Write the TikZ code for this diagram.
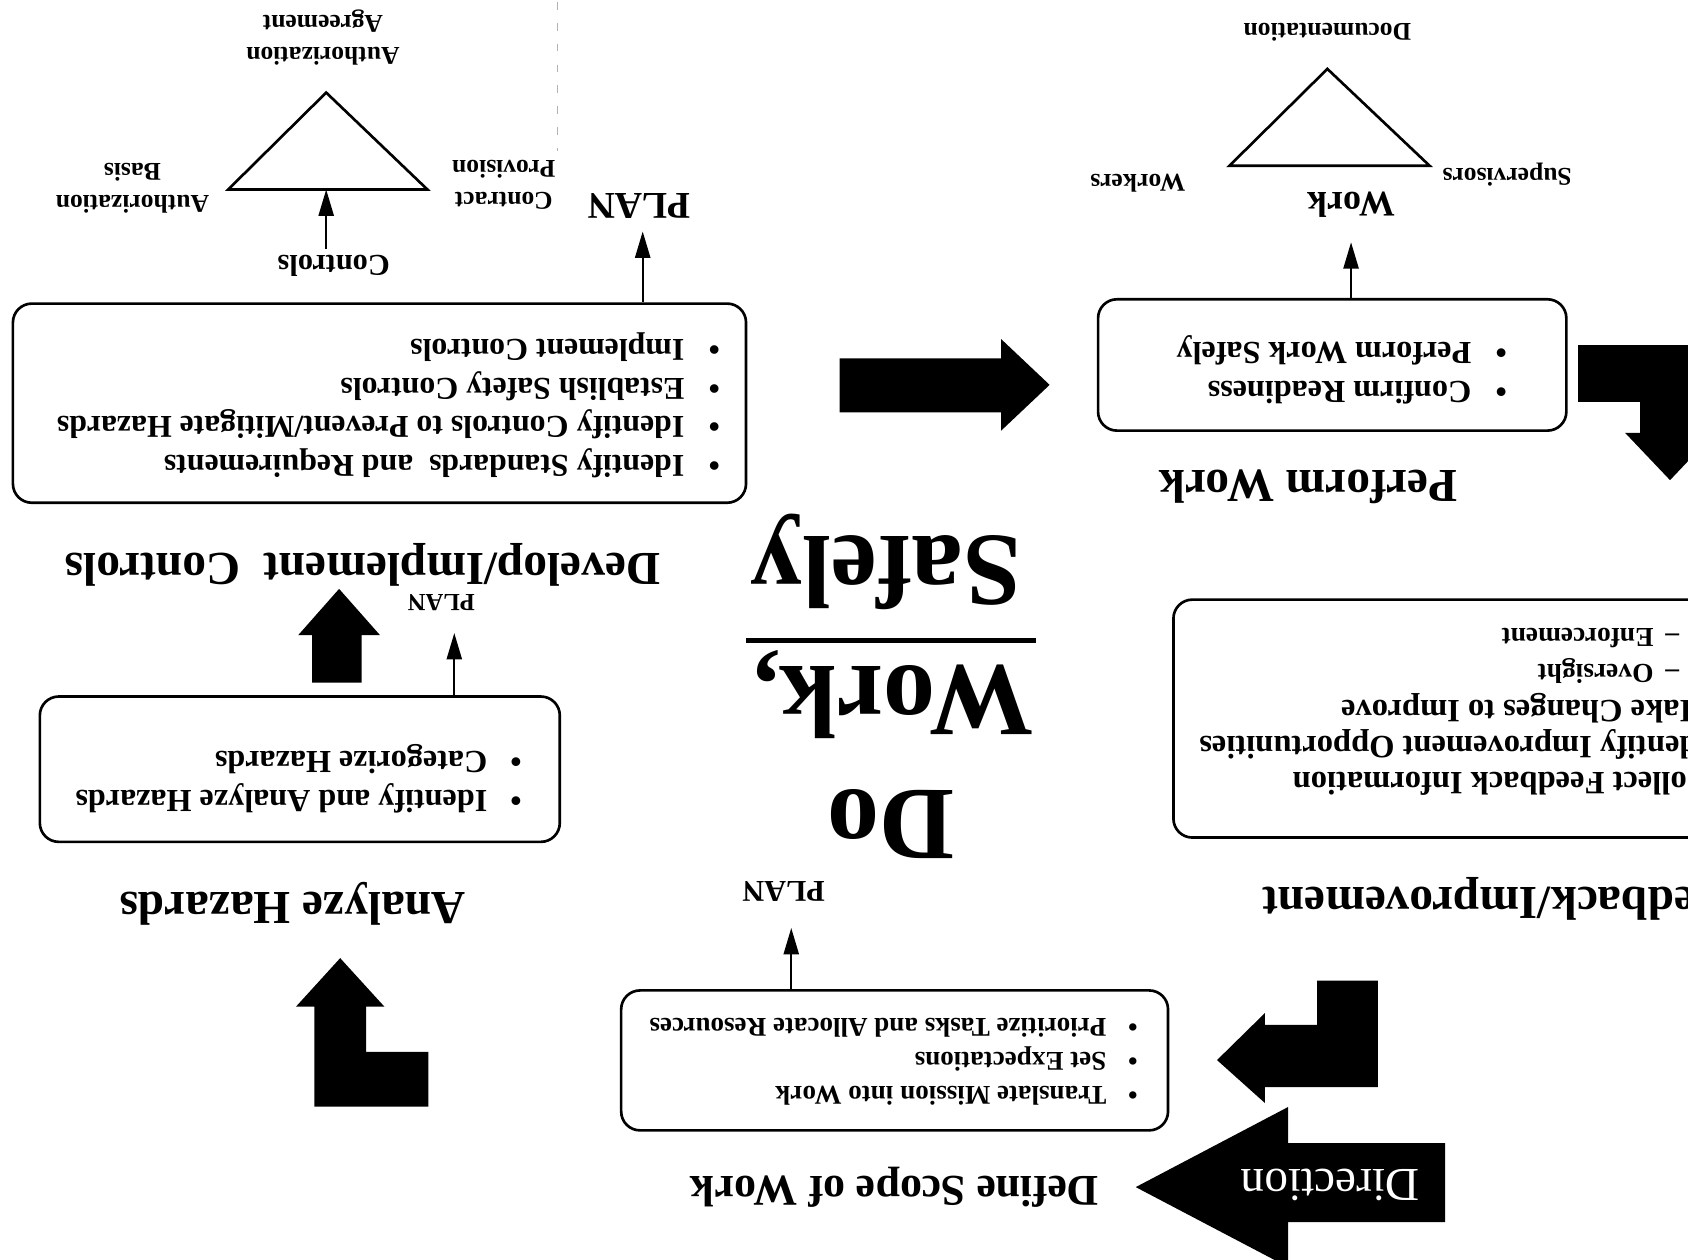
\documentclass[tikz,border=0pt]{standalone}
\usepackage{fontspec}
\setmainfont{Liberation Serif}
\usetikzlibrary{arrows.meta,fit,calc}
\newcommand\itm[2]{\makebox[#1][l]{\textbullet}#2}
\tikzset{
  lbl/.style={rotate=180, inner sep=0pt, align=center, font=\bfseries\fontsize{13.5}{17}\selectfont},
  ttl/.style={rotate=180, inner sep=0pt, font=\bfseries\fontsize{25}{30}\selectfont},
  big/.style={rotate=180, inner sep=0pt, font=\bfseries\fontsize{55}{60}\selectfont},
  lst/.style={rotate=180, inner sep=0pt, anchor=west, align=left},
  boxed/.style={draw, line width=1.4pt, rounded corners=10pt, inner sep=0pt},
  tri/.style={draw, line width=1.4pt, line join=miter},
  arr/.style={line width=1.2pt, -{Triangle[length=14pt,width=8pt]}},
  blk/.style={fill=black},
}
\begin{document}
\begin{tikzpicture}[x=0.02cm,y=-0.02cm]
\useasboundingbox (0,0) rectangle (1568,1170);
\fill[white] (0,0) rectangle (1568,1170);

% faint scan artifact
\draw[black!30, line width=0.5pt, dash pattern=on 4pt off 7pt] (518,2) -- (518,140);

% ---------- Develop/Implement Controls ----------
\coordinate (t1a) at (303,86);
\coordinate (t1l) at (212,176);
\coordinate (t1r) at (397,176);
\coordinate (t1b) at (303,176);
\draw[tri] (t1a) -- (t1r) -- (t1l) -- cycle;
\node[lbl] (agr) at (300,35) {Authorization\\Agreement};
\node[lbl] (abas) at (123,175) {Authorization\\Basis};
\node[lbl] (cprov) at (468,172) {Contract\\Provision};
\node[lbl, font=\bfseries\fontsize{16}{19}\selectfont] (ctrl) at (310,247) {Controls};
\draw[arr, shorten <=9pt] (ctrl.center -| t1b) -- (t1b);

\node[ttl, font=\bfseries\fontsize{20}{24}\selectfont] (plan1) at (594,191) {PLAN};
\coordinate (p1) at (597,215);
\node[boxed, fit={(12,282) (693,467)}] (box1) {};
\draw[arr] (box1.north -| p1) -- (p1);
\node[lst, font=\bfseries\fontsize{16.8}{20.5}\selectfont] (list1) at (669,376.5)
  {\itm{18.8pt}{Identify Standards~ and Requirements}\\
   \itm{18.8pt}{Identify Controls to Prevent/Mitigate Hazards}\\
   \itm{18.8pt}{Establish Safety Controls}\\
   \itm{18.8pt}{Implement Controls}};
\node[ttl] (dev) at (337,525) {Develop/Implement~~Controls};

% ---------- Analyze Hazards ----------
\node[ttl, font=\bfseries\fontsize{13}{16}\selectfont] (plan2) at (410,560) {PLAN};
\coordinate (p2) at (422,588);
\node[boxed, fit={(37,647) (520,782)}] (box2) {};
\draw[arr] (box2.north -| p2) -- (p2);
\node[lst, font=\bfseries\fontsize{17}{21}\selectfont] (list2) at (485,723.5)
  {\itm{18.2pt}{Identify and Analyze Hazards}\\
   \itm{18.2pt}{Categorize Hazards}};
\fill[blk] (315,547) -- (353,590) -- (336,590) -- (336,634) -- (290,634) -- (290,590) -- (277,590) -- cycle;
\node[ttl] (ana) at (272,840) {Analyze Hazards};
\fill[blk] (316,890) -- (357,935) -- (340,935) -- (340,977) -- (398,977) -- (398,1028) -- (292,1028) -- (292,935) -- (275,935) -- cycle;

% ---------- centre ----------
\fill[blk] (780,333) -- (930,333) -- (930,315) -- (975,357.5) -- (930,400) -- (930,383) -- (780,383) -- cycle;
\node[big] (safely) at (823,522) {Safely};
\draw[line width=3pt] (693,595) -- (962,595);
\node[big] (work) at (830,645) {Work,};
\node[big] (do) at (828,765) {Do};

% ---------- Define Scope of Work ----------
\node[ttl, font=\bfseries\fontsize{16}{19}\selectfont] (plan3) at (728,828) {PLAN};
\coordinate (p3) at (735,862);
\node[boxed, fit={(577,920) (1085,1050)}] (box3) {};
\draw[arr] (box3.north -| p3) -- (p3);
\node[lst, font=\bfseries\fontsize{14.3}{17.9}\selectfont] (list3) at (1057,986.5)
  {\itm{16.5pt}{Translate Mission into Work}\\
   \itm{16.5pt}{Set Expectations}\\
   \itm{16.5pt}{Prioritize Tasks and Allocate Resources}};
\node[ttl, font=\bfseries\fontsize{23.2}{28}\selectfont] (scope) at (831,1103) {Define Scope of Work};
\fill[blk] (1055,1102.7) -- (1196.5,1028.3) -- (1196.5,1061.8) -- (1342.3,1061.8) -- (1342.3,1135.2) -- (1196.5,1135.2) -- (1196.5,1177) -- cycle;
\node[rotate=180, inner sep=0pt, text=white, font=\fontsize{25}{30}\selectfont] (dir) at (1235.5,1100.8) {Direction};
\fill[blk] (1130.5,984.7) -- (1175,941) -- (1175,952) -- (1223.4,952) -- (1223.4,911) -- (1280,911) -- (1280,1009.8) -- (1175,1009.8) -- (1175,1024.6) -- cycle;

% ---------- Perform Work ----------
\coordinate (t2a) at (1233,64);
\coordinate (t2l) at (1142,154);
\coordinate (t2r) at (1328,154);
\draw[tri] (t2a) -- (t2r) -- (t2l) -- cycle;
\node[lbl] (doc) at (1233,30) {Documentation};
\node[lbl] (wkr) at (1057,170) {Workers};
\node[lbl] (sup) at (1400,162) {Supervisors};
\node[ttl, font=\bfseries\fontsize{19}{22}\selectfont] (work2) at (1255,190) {Work};
\coordinate (p4) at (1255,225);
\node[boxed, fit={(1020,278) (1455,400)}] (box4) {};
\draw[arr] (box4.north -| p4) -- (p4);
\node[lst, font=\bfseries\fontsize{17}{21}\selectfont] (list4) at (1400,343.5)
  {\itm{18.8pt}{Confirm Readiness}\\
   \itm{18.8pt}{Perform Work Safely}};
\node[ttl] (perf) at (1215,452) {Perform Work};
\fill[blk] (1466,320.5) -- (1579,320.5) -- (1579,402) -- (1593,402) -- (1551.3,446) -- (1509.5,402) -- (1523.5,402) -- (1523.5,373.4) -- (1466,373.4) -- cycle;

% ---------- Feedback/Improvement ----------
\node[boxed, fit={(1090,557) (1700,778)}] (box5) {};
\node[lst, font=\bfseries\fontsize{17.2}{19}\selectfont] (list5) at (1622,661)
  {\itm{18.8pt}{Collect Feedback Information}\\
   \itm{18.8pt}{Identify Improvement Opportunities}\\
   \itm{18.8pt}{Make Changes to Improve}\\
   {\fontsize{14.5}{19}\selectfont\hspace{35.2pt}\makebox[13.6pt][l]{--}Oversight}\\
   {\fontsize{14.5}{19}\selectfont\hspace{35.2pt}\makebox[13.6pt][l]{--}Enforcement}};
\node[ttl] (feed) at (1397,835) {Feedback/Improvement};
\end{tikzpicture}
\end{document}
